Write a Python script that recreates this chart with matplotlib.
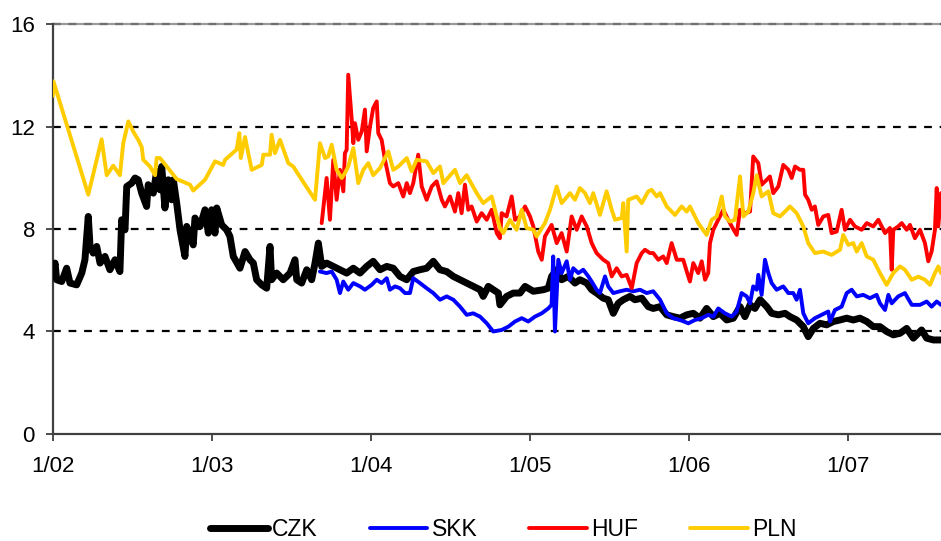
import matplotlib
matplotlib.use("Agg")
import matplotlib.pyplot as plt
import numpy as np

plt.rcParams['font.family'] = ['Liberation Sans', 'DejaVu Sans']

# years elapsed since January 2002, and spread values (%)
czk_t = [0.0, 0.013, 0.023, 0.055, 0.086, 0.107, 0.149, 0.181, 0.201, 0.222, 0.233, 0.253, 0.275,
         0.296, 0.327, 0.358, 0.390, 0.421, 0.432, 0.453, 0.464, 0.495, 0.516, 0.536, 0.558, 0.589,
         0.599, 0.631, 0.652, 0.673, 0.684, 0.704, 0.725, 0.747, 0.757, 0.778, 0.799, 0.830, 0.841,
         0.862, 0.882, 0.893, 0.925, 0.956, 0.977, 0.998, 1.019, 1.030, 1.061, 1.092, 1.113, 1.134,
         1.176, 1.208, 1.239, 1.260, 1.281, 1.313, 1.344, 1.365, 1.375, 1.407, 1.448, 1.491, 1.522,
         1.533, 1.564, 1.596, 1.627, 1.648, 1.669, 1.690, 1.721, 1.763, 1.805, 1.847, 1.889, 1.931,
         1.973, 2.014, 2.057, 2.099, 2.140, 2.182, 2.225, 2.266, 2.308, 2.350, 2.392, 2.434, 2.476,
         2.518, 2.560, 2.602, 2.643, 2.686, 2.706, 2.738, 2.769, 2.801, 2.811, 2.853, 2.895, 2.937,
         2.969, 3.021, 3.084, 3.115, 3.136, 3.168, 3.199, 3.241, 3.283, 3.314, 3.357, 3.388, 3.419,
         3.461, 3.492, 3.524, 3.555, 3.587, 3.629, 3.660, 3.703, 3.744, 3.775, 3.818, 3.860, 3.901,
         3.943, 3.986, 4.027, 4.069, 4.111, 4.153, 4.195, 4.237, 4.279, 4.321, 4.352, 4.384, 4.415,
         4.447, 4.489, 4.520, 4.562, 4.604, 4.635, 4.677, 4.719, 4.750, 4.782, 4.824, 4.866, 4.908,
         4.950, 4.992, 5.033, 5.075, 5.118, 5.159, 5.201, 5.243, 5.285, 5.327, 5.369, 5.411, 5.463,
         5.495, 5.537, 5.585]
czk = [6.2, 6.67, 6.02, 5.95, 6.47, 5.89, 5.82, 6.28, 6.8, 8.49, 7.32, 7.06, 7.32,
       6.67, 6.93, 6.41, 6.8, 6.34, 8.36, 7.97, 9.66, 9.79, 9.99, 9.92, 9.4, 8.88,
       9.73, 9.4, 10.25, 9.53, 10.44, 8.82, 9.92, 9.14, 9.92, 9.01, 7.97, 6.93, 8.1,
       7.8, 7.38, 8.43, 8.1, 8.75, 7.84, 8.75, 7.84, 8.82, 8.16, 7.97, 7.71, 6.93,
       6.47, 7.12, 6.8, 6.67, 6.02, 5.82, 5.69, 7.32, 6.02, 6.28, 6.02, 6.28, 6.8,
       6.02, 5.89, 6.41, 6.02, 6.67, 7.45, 6.54, 6.67, 6.54, 6.41, 6.28, 6.47, 6.28,
       6.54, 6.74, 6.41, 6.54, 6.47, 6.15, 6.02, 6.34, 6.41, 6.47, 6.74, 6.41, 6.34,
       6.15, 6.02, 5.89, 5.76, 5.63, 5.37, 5.76, 5.63, 5.5, 5.04, 5.37, 5.5, 5.5,
       5.76, 5.57, 5.63, 5.69, 6.15, 6.41, 6.02, 6.15, 5.89, 6.02, 5.89, 5.63, 5.5,
       5.3, 5.24, 4.71, 5.1, 5.24, 5.37, 5.24, 5.3, 4.97, 4.9, 4.97, 4.65, 4.58,
       4.52, 4.65, 4.71, 4.52, 4.9, 4.58, 4.71, 4.45, 4.52, 4.97, 4.58, 5.04, 4.9,
       5.24, 4.97, 4.71, 4.65, 4.71, 4.58, 4.45, 4.19, 3.8, 4.12, 4.32, 4.26, 4.39,
       4.45, 4.52, 4.45, 4.52, 4.39, 4.19, 4.19, 4.0, 3.87, 3.93, 4.12, 3.74, 4.06,
       3.74, 3.67, 3.67]

skk_t = [1.679, 1.721, 1.753, 1.784, 1.805, 1.826, 1.857, 1.889, 1.931, 1.962, 2.004, 2.036, 2.067,
         2.099, 2.119, 2.151, 2.182, 2.214, 2.245, 2.266, 2.308, 2.350, 2.392, 2.434, 2.476, 2.518,
         2.560, 2.602, 2.643, 2.686, 2.728, 2.769, 2.822, 2.864, 2.906, 2.948, 2.989, 3.031, 3.074,
         3.115, 3.136, 3.146, 3.157, 3.178, 3.199, 3.231, 3.252, 3.272, 3.304, 3.335, 3.367, 3.388,
         3.419, 3.440, 3.472, 3.492, 3.524, 3.566, 3.608, 3.650, 3.692, 3.734, 3.775, 3.818, 3.860,
         3.901, 3.943, 3.996, 4.038, 4.080, 4.121, 4.153, 4.184, 4.226, 4.269, 4.300, 4.331, 4.363,
         4.384, 4.404, 4.426, 4.436, 4.457, 4.478, 4.499, 4.520, 4.551, 4.593, 4.625, 4.656, 4.677,
         4.698, 4.719, 4.750, 4.792, 4.834, 4.876, 4.887, 4.918, 4.960, 4.992, 5.023, 5.055, 5.096,
         5.138, 5.180, 5.201, 5.233, 5.254, 5.275, 5.316, 5.358, 5.401, 5.453, 5.495, 5.526, 5.558,
         5.585]
skk = [6.34, 6.28, 6.34, 6.02, 5.5, 5.95, 5.63, 5.89, 5.76, 5.63, 5.82, 6.02, 5.89,
       6.08, 5.63, 5.76, 5.69, 5.5, 5.5, 6.08, 5.89, 5.69, 5.5, 5.24, 5.37, 5.24,
       4.97, 4.65, 4.71, 4.58, 4.32, 4.0, 4.06, 4.19, 4.39, 4.52, 4.39, 4.58, 4.71,
       4.9, 5.04, 6.93, 4.0, 6.8, 6.28, 6.74, 6.02, 6.47, 6.28, 6.41, 6.15, 5.95,
       5.63, 5.5, 6.15, 5.76, 5.5, 5.57, 5.63, 5.57, 5.63, 5.5, 5.57, 5.24, 4.71,
       4.52, 4.45, 4.32, 4.45, 4.52, 4.65, 4.58, 4.9, 4.71, 4.58, 4.78, 5.5, 5.37,
       5.1, 5.76, 5.63, 6.21, 5.43, 6.8, 6.28, 5.89, 5.63, 5.76, 5.5, 5.5, 5.24,
       5.63, 4.71, 4.32, 4.52, 4.65, 4.78, 4.39, 4.84, 4.97, 5.5, 5.63, 5.37, 5.43,
       5.3, 5.43, 5.1, 4.84, 5.43, 5.1, 5.37, 5.5, 5.04, 5.04, 5.17, 4.97, 5.17,
       5.04]

huf_t = [1.690, 1.721, 1.742, 1.763, 1.784, 1.805, 1.826, 1.836, 1.847, 1.857, 1.879, 1.889, 1.899,
         1.920, 1.942, 1.962, 1.973, 1.994, 2.014, 2.036, 2.046, 2.067, 2.088, 2.119, 2.140, 2.172,
         2.203, 2.225, 2.245, 2.266, 2.297, 2.319, 2.350, 2.382, 2.413, 2.445, 2.465, 2.497, 2.528,
         2.549, 2.570, 2.591, 2.612, 2.633, 2.665, 2.696, 2.728, 2.759, 2.791, 2.811, 2.822, 2.853,
         2.885, 2.906, 2.937, 2.969, 3.000, 3.021, 3.052, 3.074, 3.094, 3.136, 3.168, 3.199, 3.231,
         3.262, 3.294, 3.325, 3.357, 3.388, 3.419, 3.461, 3.492, 3.514, 3.545, 3.577, 3.608, 3.640,
         3.671, 3.703, 3.723, 3.755, 3.775, 3.807, 3.838, 3.860, 3.891, 3.923, 3.964, 3.986, 4.006,
         4.027, 4.058, 4.080, 4.101, 4.121, 4.132, 4.153, 4.184, 4.216, 4.247, 4.269, 4.300, 4.321,
         4.352, 4.384, 4.404, 4.436, 4.457, 4.489, 4.509, 4.530, 4.562, 4.593, 4.625, 4.646, 4.667,
         4.698, 4.719, 4.730, 4.750, 4.772, 4.792, 4.813, 4.845, 4.876, 4.897, 4.929, 4.960, 4.981,
         5.013, 5.044, 5.086, 5.118, 5.159, 5.191, 5.233, 5.264, 5.275, 5.285, 5.316, 5.338, 5.369,
         5.390, 5.421, 5.453, 5.484, 5.505, 5.526, 5.547, 5.558, 5.568, 5.585]
huf = [8.23, 9.99, 8.36, 10.7, 9.14, 10.31, 9.47, 10.96, 11.09, 14.02, 12.27, 11.35, 12.13,
       11.48, 11.81, 12.66, 11.03, 12.0, 12.72, 12.98, 11.74, 11.48, 10.7, 9.79, 9.66, 9.79,
       9.27, 9.79, 9.4, 9.79, 10.9, 9.66, 9.14, 9.66, 9.86, 9.14, 8.88, 9.27, 8.68,
       9.4, 8.62, 9.73, 8.75, 8.88, 8.29, 8.62, 8.36, 8.75, 7.84, 7.64, 8.62, 8.49,
       9.27, 8.36, 8.49, 8.88, 8.49, 8.1, 7.12, 6.8, 7.71, 8.16, 7.45, 7.84, 7.12,
       8.49, 7.97, 8.49, 8.1, 7.45, 7.06, 6.8, 6.67, 6.15, 6.47, 6.15, 6.21, 5.69,
       6.67, 7.06, 7.19, 7.06, 7.06, 6.8, 6.93, 6.67, 7.45, 6.8, 6.8, 6.34, 5.95,
       6.67, 6.28, 6.74, 6.02, 6.28, 7.45, 7.97, 8.36, 8.75, 8.36, 8.1, 7.77, 8.75,
       8.62, 8.68, 10.83, 10.57, 9.73, 9.92, 10.05, 9.4, 9.66, 10.5, 10.31, 9.99, 10.44,
       10.31, 10.31, 9.34, 9.14, 8.75, 8.88, 8.16, 8.49, 8.55, 7.84, 7.9, 8.75, 7.97,
       8.36, 8.1, 7.97, 8.23, 8.1, 8.36, 7.84, 8.04, 6.41, 7.97, 8.1, 8.23, 7.97,
       8.16, 7.64, 7.97, 7.45, 6.74, 7.12, 7.97, 9.6, 8.1, 9.4]

pln_t = [0.0, 0.003, 0.222, 0.306, 0.338, 0.379, 0.421, 0.442, 0.474, 0.505, 0.536, 0.558, 0.568,
         0.610, 0.642, 0.652, 0.673, 0.778, 0.862, 0.882, 0.956, 1.019, 1.071, 1.082, 1.155, 1.172,
         1.181, 1.208, 1.228, 1.250, 1.313, 1.323, 1.365, 1.375, 1.396, 1.428, 1.480, 1.511, 1.585,
         1.648, 1.679, 1.711, 1.731, 1.753, 1.784, 1.816, 1.836, 1.857, 1.889, 1.920, 1.952, 1.983,
         2.014, 2.057, 2.109, 2.140, 2.172, 2.225, 2.256, 2.287, 2.350, 2.392, 2.434, 2.455, 2.528,
         2.560, 2.602, 2.665, 2.706, 2.759, 2.791, 2.811, 2.832, 2.874, 2.916, 2.948, 2.979, 3.021,
         3.042, 3.094, 3.126, 3.168, 3.199, 3.252, 3.283, 3.314, 3.346, 3.377, 3.398, 3.440, 3.482,
         3.514, 3.535, 3.577, 3.587, 3.608, 3.618, 3.671, 3.703, 3.744, 3.765, 3.797, 3.818, 3.860,
         3.912, 3.954, 3.986, 4.006, 4.058, 4.111, 4.143, 4.174, 4.206, 4.226, 4.258, 4.289, 4.321,
         4.342, 4.373, 4.404, 4.426, 4.457, 4.499, 4.530, 4.572, 4.604, 4.635, 4.677, 4.719, 4.750,
         4.792, 4.845, 4.897, 4.950, 4.970, 5.002, 5.033, 5.055, 5.086, 5.118, 5.159, 5.201, 5.243,
         5.285, 5.327, 5.358, 5.401, 5.442, 5.484, 5.516, 5.547, 5.568, 5.585]
pln = [13.2, 13.76, 9.34, 11.5, 10.1, 10.47, 10.1, 11.35, 12.2, 11.8, 11.48, 11.2, 10.7,
       10.44, 10.1, 10.77, 10.77, 9.95, 9.73, 9.5, 9.92, 10.64, 10.5, 10.7, 11.1, 11.74,
       10.77, 11.59, 10.96, 10.31, 10.5, 10.9, 10.9, 11.68, 10.96, 11.48, 10.57, 10.44, 9.73,
       9.14, 11.35, 10.77, 10.83, 11.29, 10.31, 9.99, 10.18, 10.44, 11.16, 9.79, 10.31, 10.57,
       10.1, 10.38, 11.03, 10.31, 10.44, 10.77, 10.25, 10.7, 10.64, 10.18, 10.44, 9.79, 10.31,
       9.79, 10.1, 9.4, 9.01, 9.27, 8.49, 8.04, 7.84, 8.36, 7.97, 8.75, 8.04, 7.97,
       7.71, 8.23, 8.75, 9.66, 9.01, 9.4, 9.14, 9.6, 9.4, 9.01, 9.4, 8.55, 9.47,
       8.75, 8.36, 8.43, 9.01, 7.12, 9.14, 9.27, 9.01, 9.47, 9.53, 9.27, 9.4, 8.88,
       8.55, 8.88, 8.68, 8.88, 8.23, 7.77, 8.36, 8.49, 9.27, 8.49, 8.29, 8.36, 10.05,
       8.49, 8.68, 9.4, 10.1, 9.27, 9.47, 8.62, 8.49, 8.68, 8.88, 8.62, 8.1, 7.45,
       7.06, 7.12, 6.99, 7.19, 7.77, 7.38, 7.45, 7.12, 7.45, 6.93, 6.8, 6.28, 5.82,
       6.28, 6.54, 6.41, 6.02, 6.14, 6.02, 5.82, 6.28, 6.54, 6.28]

year_ticks = [2002, 2003, 2004, 2005, 2006, 2007]
year_labels = ['1/02', '1/03', '1/04', '1/05', '1/06', '1/07']
y_ticks = [0, 4, 8, 12, 16]

fig = plt.figure(figsize=(9.41, 5.41), dpi=100)
ax = fig.add_axes([0.0563, 0.1978, 0.9437, 0.7578])

series = [
    ('CZK', czk_t, czk, 'black', 5.0),
    ('SKK', skk_t, skk, '#0000FF', 2.8),
    ('HUF', huf_t, huf, '#FF0000', 2.8),
    ('PLN', pln_t, pln, '#FFCC00', 2.8),
]
for name, t, v, col, lw in series:
    ax.plot(2002 + np.array(t), v, color=col, lw=lw, label=name,
            solid_joinstyle='round', solid_capstyle='round', zorder=3)

# dotted reference lines
for yv in [4, 8, 12]:
    ax.axhline(yv, color='black', lw=1.6, ls=(0, (3.5, 3.5)), zorder=1)
ax.axhline(16, color='#9a9a9a', lw=1.6, zorder=1, clip_on=False)
ax.axhline(16, color='#707070', lw=1.6, ls=(0, (3.5, 3.5)), zorder=1, clip_on=False)

ax.set_xlim(2002, 2007.585)
ax.set_ylim(0, 16)
ax.set_xticks(year_ticks)
ax.set_xticklabels(year_labels)
ax.set_yticks(y_ticks)

for side in ['top', 'right']:
    ax.spines[side].set_visible(False)
for side in ['left', 'bottom']:
    ax.spines[side].set_color('#404040')
    ax.spines[side].set_linewidth(1.6)
ax.tick_params(axis='both', direction='out', length=5, width=1.3, color='#404040',
               labelsize=16, labelcolor='black')
ax.tick_params(axis='y', pad=8)
ax.tick_params(axis='x', pad=11)

fig.legend(loc='center', bbox_to_anchor=(0.535, 0.021), ncol=4, frameon=False,
           fontsize=16.5, handlelength=2.5, handletextpad=0.2, columnspacing=2.27)

fig.savefig('out.png', dpi=100)
